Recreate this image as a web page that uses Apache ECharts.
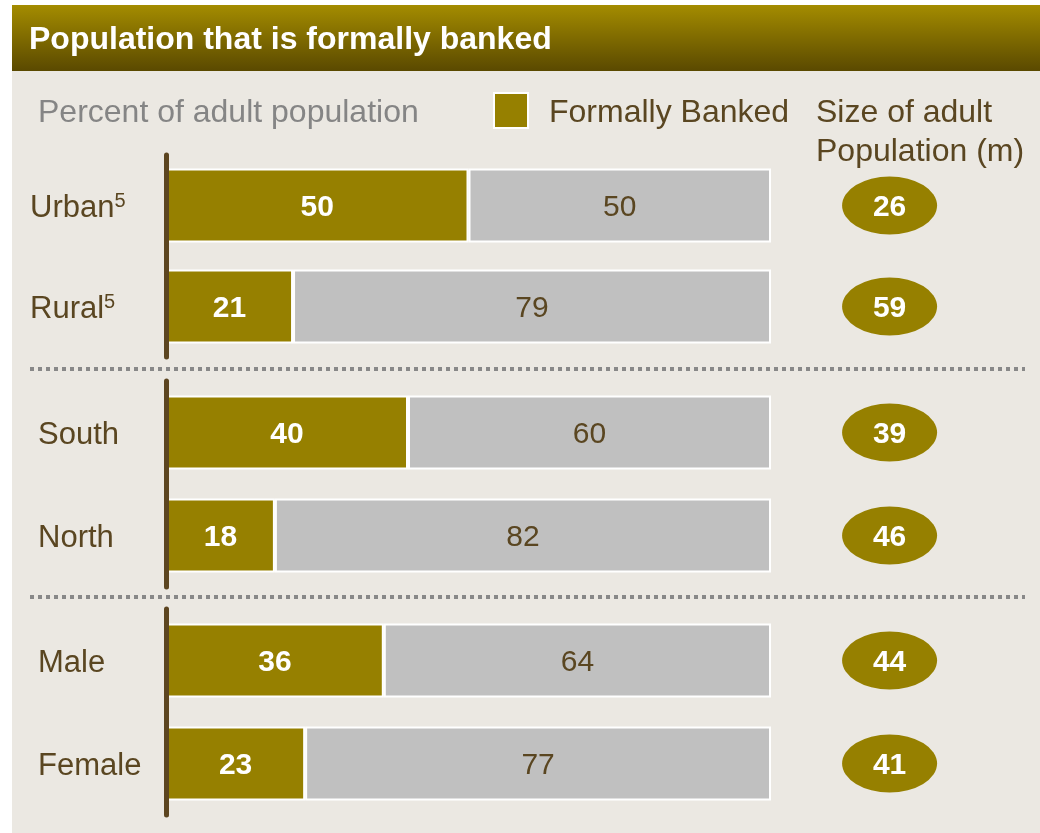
<!DOCTYPE html>
<html lang="en">
<head>
    <meta charset="UTF-8">
    <title>Population that is formally banked</title>
    <script src="https://cdn.jsdelivr.net/npm/echarts@6/dist/echarts.min.js"></script>
    <style>
        html, body { margin: 0; padding: 0; background: #fff; }
        #main { width: 1040px; height: 833px; }
    </style>
</head>
<body>
<div id="main"></div>
<script type="text/javascript">
    // data, one small array per group
    var groupCats = [['Urban', 'Rural'], ['South', 'North'], ['Male', 'Female']];
    var groupNotes = [['5', '5'], ['', ''], ['', '']];
    var bankedVals = [[50, 21], [40, 18], [36, 23]];
    var unbankedVals = [[50, 79], [60, 82], [64, 77]];
    var adultSizes = [[26, 59], [39, 46], [44, 41]];

    var OLIVE = '#968000';
    var GREY = '#c0c0c0';
    var BROWN = '#5a4621';
    var FONT = 'Arial, "Liberation Sans", sans-serif';

    // layout of the three blocks
    var gridTops = [155, 381, 609];
    var gridHeights = [202, 206, 206];
    var labelMargins = [134, 126, 126];
    var PX_PER_UNIT = 6.05;      // 100% ends at x=771
    var X_MAX = 140;
    var ELLIPSE_X = 119.6;       // column of the ovals, in axis units

    var grids = [], xAxes = [], yAxes = [], series = [];

    for (var g = 0; g < 3; g++) {
        grids.push({left: 166, top: gridTops[g], width: X_MAX * PX_PER_UNIT, height: gridHeights[g]});
        xAxes.push({type: 'value', gridIndex: g, min: 0, max: X_MAX, show: false});
        (function (g) {
            yAxes.push({
                type: 'category', gridIndex: g, inverse: true, data: groupCats[g], offset: 2,
                z: 10,
                axisLine: {show: true, lineStyle: {color: '#5c4520', width: 5}},
                axisTick: {show: false},
                splitLine: {show: false},
                axisLabel: {
                    align: 'left', margin: labelMargins[g],
                    color: BROWN, fontSize: 31, fontFamily: FONT, padding: [5, 0, 0, 0],
                    formatter: function (v, i) {
                        var note = groupNotes[g][i];
                        return note ? v + '{sup|' + note + '}' : v;
                    },
                    rich: {sup: {color: BROWN, fontSize: 20, fontFamily: FONT, verticalAlign: 'bottom', padding: [0, 0, 14, 0]}}
                }
            });
        })(g);

        series.push({
            name: 'Formally Banked', type: 'bar', stack: 's' + g, xAxisIndex: g, yAxisIndex: g,
            barWidth: 74, data: bankedVals[g],
            itemStyle: {color: OLIVE, borderColor: '#fff', borderWidth: 2},
            label: {show: true, position: 'inside', offset: [0, 2], color: '#fff', fontWeight: 'bold', fontSize: 30, fontFamily: FONT},
            emphasis: {disabled: true}
        });
        series.push({
            name: 'Not banked', type: 'bar', stack: 's' + g, xAxisIndex: g, yAxisIndex: g,
            barWidth: 74, data: unbankedVals[g],
            itemStyle: {color: GREY, borderColor: '#fff', borderWidth: 2},
            label: {show: true, position: 'inside', offset: [0, 2], color: BROWN, fontSize: 30, fontFamily: FONT},
            emphasis: {disabled: true}
        });
        series.push({
            name: 'Adult population', type: 'scatter', xAxisIndex: g, yAxisIndex: g,
            symbol: 'path://M0,1 A1,1 0 1,1 2,1 A1,1 0 1,1 0,1 Z',
            symbolSize: [95, 58],
            data: adultSizes[g].map(function (s, i) { return [ELLIPSE_X, groupCats[g][i], s]; }),
            itemStyle: {color: OLIVE, opacity: 1},
            label: {
                show: true, position: 'inside', offset: [0, 2], color: '#fff', fontWeight: 'bold', fontSize: 30, fontFamily: FONT,
                formatter: function (p) { return p.value[2]; }
            },
            emphasis: {disabled: true}
        });
    }

    var myChart = echarts.init(document.getElementById('main'));
    var option = {
        backgroundColor: '#ebe8e2',
        animation: false,
        textStyle: {fontFamily: FONT},
        legend: {
            data: ['Formally Banked'], left: 493, top: 92, padding: 0,
            icon: 'rect', itemWidth: 34, itemHeight: 35,
            itemStyle: {color: OLIVE, borderColor: '#fff', borderWidth: 2},
            formatter: function (name) { return '{t|' + name + '}'; },
            textStyle: {
                color: BROWN, fontSize: 32, fontFamily: FONT,
                rich: {t: {color: BROWN, fontSize: 32, fontFamily: FONT, padding: [6, 0, 0, 16]}}
            },
            selectedMode: false
        },
        grid: grids,
        xAxis: xAxes,
        yAxis: yAxes,
        series: series,
        graphic: [
            // white margins round the panel
            {type: 'rect', shape: {x: 0, y: 0, width: 12, height: 833}, style: {fill: '#fff'}, silent: true},
            {type: 'rect', shape: {x: 0, y: 0, width: 1040, height: 5}, style: {fill: '#fff'}, silent: true},
            // title bar
            {
                type: 'rect', shape: {x: 12, y: 5, width: 1028, height: 66}, silent: true,
                style: {
                    fill: new echarts.graphic.LinearGradient(0, 0, 0, 1, [
                        {offset: 0, color: '#a48c00'},
                        {offset: 1, color: '#5a4900'}
                    ])
                }
            },
            {
                type: 'text', left: 29, top: 24, silent: true,
                style: {text: 'Population that is formally banked', fill: '#fff', font: 'bold 32px ' + FONT}
            },
            {
                type: 'text', left: 38, top: 97, silent: true,
                style: {text: 'Percent of adult population', fill: '#858585', font: '32px ' + FONT}
            },
            {
                type: 'text', left: 816, top: 94, silent: true,
                style: {text: 'Size of adult\nPopulation (m)', fill: BROWN, font: '32px ' + FONT, lineHeight: 39}
            },
            // dotted separators
            {
                type: 'line', silent: true, shape: {x1: 30, y1: 369, x2: 1025, y2: 369},
                style: {stroke: '#888', lineWidth: 4, lineDash: [4, 4]}
            },
            {
                type: 'line', silent: true, shape: {x1: 30, y1: 597, x2: 1025, y2: 597},
                style: {stroke: '#888', lineWidth: 4, lineDash: [4, 4]}
            }
        ]
    };
    myChart.setOption(option);
</script>
</body>
</html>
